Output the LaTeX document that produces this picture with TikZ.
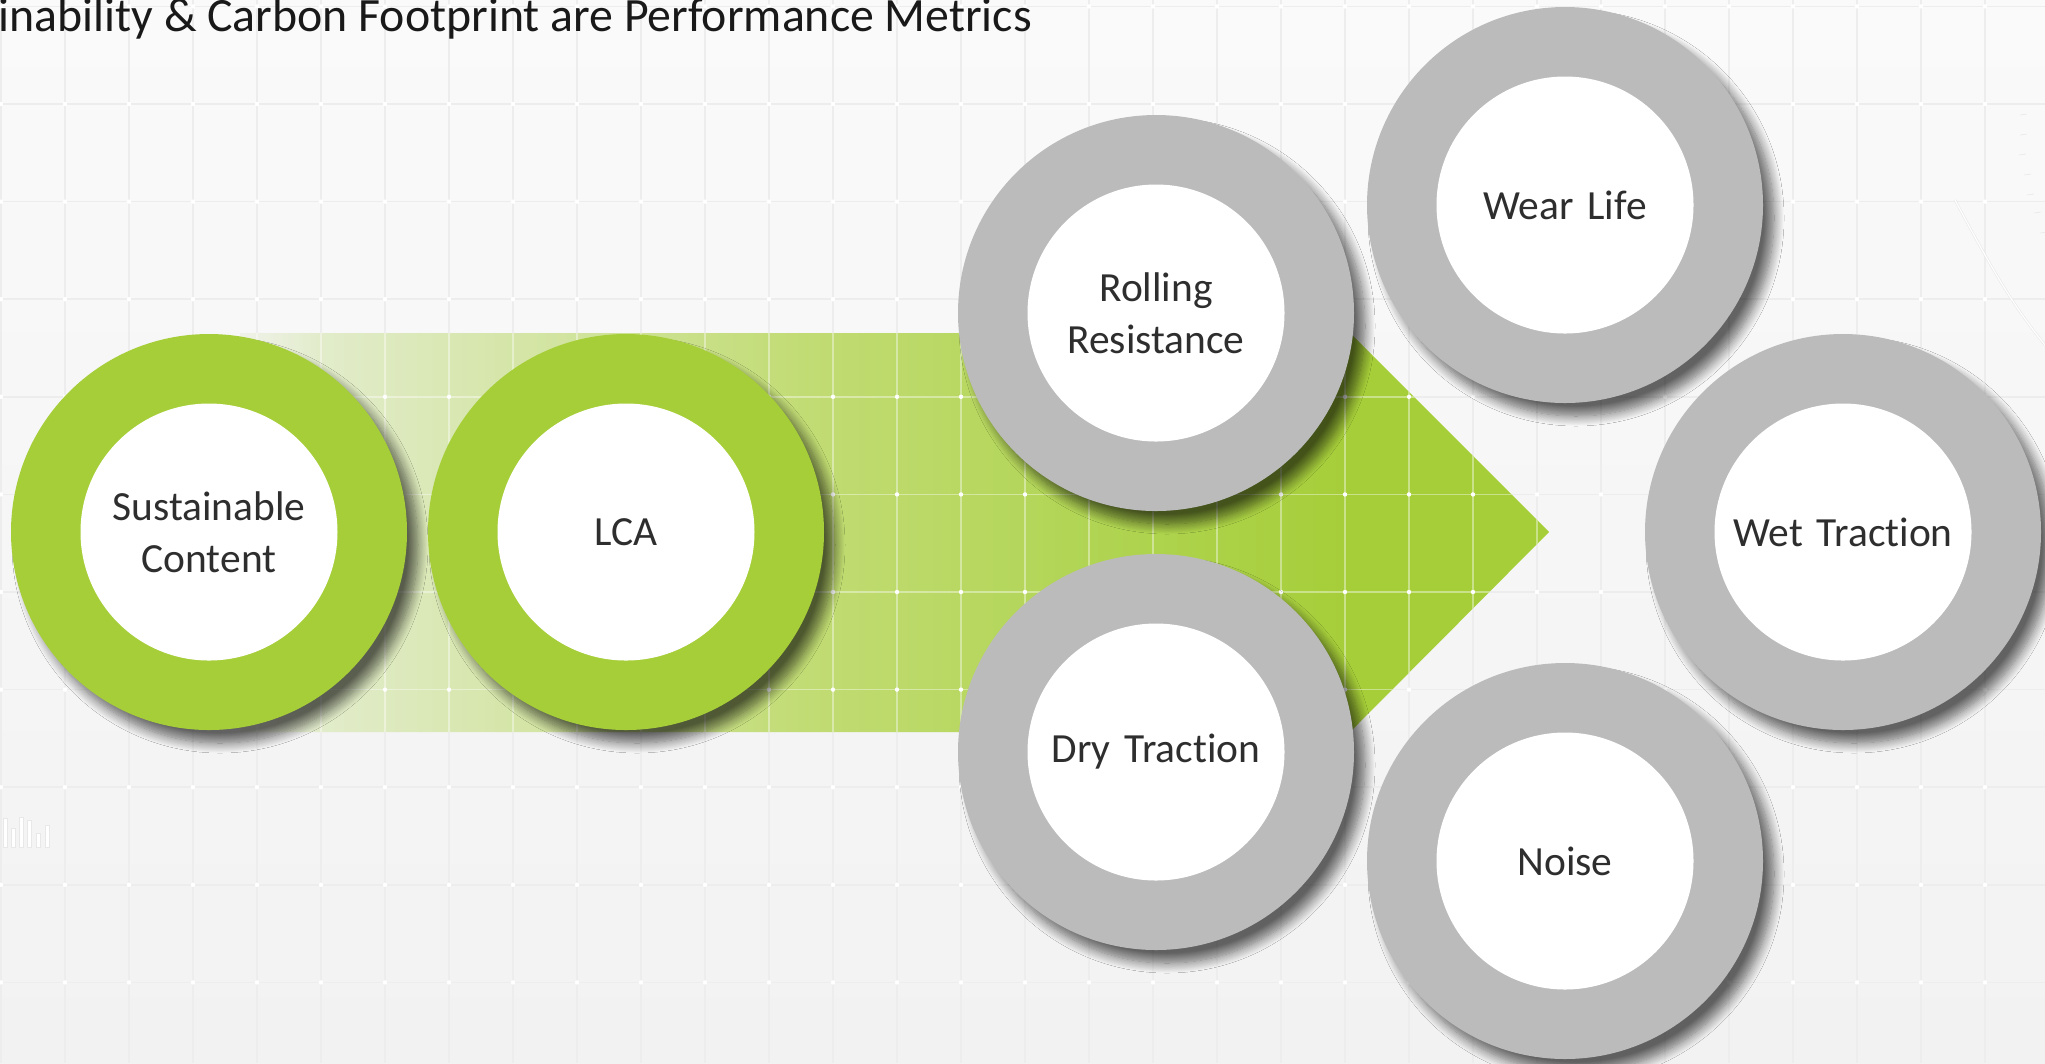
\documentclass[tikz,border=0pt]{standalone}
\usepackage{fontspec}
\setmainfont{Carlito}[Ligatures=NoCommon]
\usepackage{tikz}
\usetikzlibrary{positioning, shadows.blur}
\definecolor{leaf}{HTML}{A6CE39}
\definecolor{ringgrey}{HTML}{BBBBBB}
\definecolor{ink}{HTML}{2E2E2E}
\definecolor{bgtop}{HTML}{FAFAFA}
\definecolor{bgbot}{HTML}{F2F2F2}
\definecolor{fade0}{HTML}{F0F2EA}
\definecolor{fade1}{HTML}{E2ECCB}
\definecolor{fade2}{HTML}{C2DC75}
\definecolor{fade3}{HTML}{B0D452}
\definecolor{gridgrey}{HTML}{EDEDED}
\pgfdeclarehorizontalshading{arrowfade}{100bp}{color(0bp)=(fade0); color(25bp)=(fade0); color(28bp)=(fade1); color(46.4bp)=(fade2); color(57.9bp)=(fade3); color(67.4bp)=(leaf); color(100bp)=(leaf)}
\newcommand{\ringfont}{\fontsize{11.8}{14.8}\selectfont}
\newcommand{\titlefont}{\fontsize{13.6}{16}\selectfont}

\begin{document}
\begin{tikzpicture}[
    x=0.1mm, y=-0.1mm,
    every node/.style={font=\ringfont, text=ink},
    ring/.style={
      circle, fill=#1, minimum size=39.6mm, inner sep=0pt, outer sep=0pt,
      text width=25mm, align=center,
      path picture={\fill[white] (path picture bounding box.center) circle (12.85mm);},
      blur shadow={shadow xshift=1.1mm, shadow yshift=-1.3mm, shadow blur radius=1.0mm, shadow blur steps=12, shadow opacity=60}
    },
    greenring/.style={ring=leaf},
    greyring/.style={ring=ringgrey},
    gridline/.style={gridgrey, line width=0.15mm},
    gridlight/.style={white, opacity=0.4, line width=0.15mm},
    faint/.style={draw=black!9, line width=0.06mm}
]
  \useasboundingbox (0,0) rectangle (2045,1063);
  \shade[top color=bgtop, bottom color=bgbot] (0,0) rectangle (2045,1063);

  % background grid
  \foreach \gx in {1,65,...,2049}
    \draw[gridline] (\gx,0) -- (\gx,1063);
  \foreach \k in {0,...,10}
    \draw[gridline] (0,{6.4+97.6*\k}) -- (2045,{6.4+97.6*\k});

  % faint chart and gauge of the template
  \foreach \bx/\btop in {3/818, 11/828, 19/817, 27/820, 36/833, 45/825}
    \filldraw[faint, fill=white] (\bx,\btop) rectangle ++(4,{847-\btop});
  \draw[faint, double=white, double distance=0.12mm] (1955,200) .. controls (1988,262) and (2012,305) .. (2045,345);
  \foreach \ta/\tb in {2020/115, 2020/135, 2019/155, 2024/175, 2027/195, 2034/213, 2040/233}
    \draw[faint] (\ta,\tb) -- ++(7,-1);

  % arrow
  \coordinate (tail-top) at (240,333);
  \coordinate (head-top) at (1350,333);
  \coordinate (tip) at (1549,532);
  \coordinate (head-bot) at (1350,732);
  \coordinate (tail-bot) at (240,732);
  \shade[shading=arrowfade] (tail-top) -- (head-top) -- (tip) -- (head-bot) -- (tail-bot) -- cycle;
  \begin{scope}
    \clip (tail-top) -- (head-top) -- (tip) -- (head-bot) -- (tail-bot) -- cycle;
    \foreach \gx in {1,65,...,2049}
      \draw[gridlight] (\gx,0) -- (\gx,1063);
    \foreach \k in {0,...,10}
      \draw[gridlight] (0,{6.4+97.6*\k}) -- (2045,{6.4+97.6*\k});
  \end{scope}
  \foreach \gx in {1,65,...,2049}
    \foreach \k in {0,...,10}
      \fill[white] (\gx,{6.4+97.6*\k}) circle (2.2);

  % title
  \node[font=\titlefont, text=black!90, anchor=base west, inner sep=0pt] (title) at (-2,31) {inability \& Carbon Footprint are Performance Metrics};

  % rings
  \node[greenring] (sc) at (209,532) {Sustainable\\Content};
  \node[greenring, right=2.1mm of sc] (lca) {LCA};
  \node[greyring] (rr) at (1156,313) {Rolling\\Resistance};
  \node[greyring, below=4.3mm of rr] (dt) {Dry Traction};
  \node[greyring] (wl) at (1565,205) {Wear Life};
  \node[greyring, below=26mm of wl] (noise) {Noise};
  \node[greyring] (wt) at (1843,532) {Wet Traction};
\end{tikzpicture}
\end{document}
